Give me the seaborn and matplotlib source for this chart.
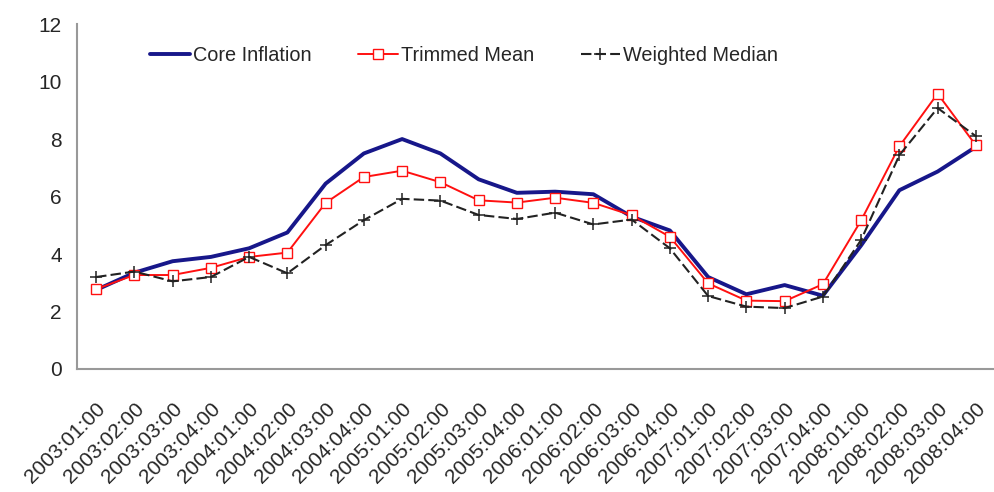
import numpy as np
import pandas as pd
import matplotlib
matplotlib.use('Agg')
import matplotlib.pyplot as plt
import seaborn as sns

# quarters shown on the x axis
quarters = [f'{y}:{q:02d}:00' for y in range(2003, 2009) for q in range(1, 5)]

core_inflation = [2.75, 3.35, 3.75, 3.9, 4.2, 4.75, 6.45, 7.5, 8.0, 7.5, 6.6, 6.13,
                  6.17, 6.08, 5.3, 4.82, 3.2, 2.6, 2.92, 2.55, 4.3, 6.22, 6.87, 7.73]
trimmed_mean = [2.78, 3.27, 3.27, 3.52, 3.9, 4.05, 5.78, 6.68, 6.9, 6.5, 5.87, 5.79,
                5.96, 5.78, 5.35, 4.6, 2.98, 2.38, 2.36, 2.95, 5.17, 7.75, 9.58, 7.78]
weighted_median = [3.2, 3.39, 3.05, 3.2, 3.9, 3.33, 4.31, 5.18, 5.92, 5.86, 5.36, 5.22,
                   5.44, 5.03, 5.2, 4.2, 2.54, 2.17, 2.12, 2.52, 4.49, 7.44, 9.08, 8.1]

df = pd.DataFrame({
    'idx': np.arange(len(quarters)),
    'Core Inflation': core_inflation,
    'Trimmed Mean': trimmed_mean,
    'Weighted Median': weighted_median,
})

sns.set_style('white')
plt.rcParams['font.family'] = ['Liberation Sans', 'DejaVu Sans']

fig = plt.figure(figsize=(9.95, 4.92), dpi=100)
ax = fig.add_axes([77 / 995, 0.25, (995 - 77) / 995, 0.701])

sns.lineplot(data=df, x='idx', y='Core Inflation', ax=ax, color='#17178a',
             linewidth=2.8, label='Core Inflation')
sns.lineplot(data=df, x='idx', y='Trimmed Mean', ax=ax, color='#ff1010',
             linewidth=1.4, marker='s', markersize=7.5, markerfacecolor='white',
             markeredgecolor='#ff1010', markeredgewidth=1.0, label='Trimmed Mean')
sns.lineplot(data=df, x='idx', y='Weighted Median', ax=ax, color='#222222',
             linewidth=1.5, marker='+', markersize=9, markeredgewidth=1.1,
             markeredgecolor='#222222', label='Weighted Median')
ax.lines[2].set_dashes((5, 2))

ax.set_xlim(-0.5, 23.25)
ax.set_ylim(0, 12)
ax.set_yticks(range(0, 13, 2))
ax.set_xticks(df['idx'])
ax.set_xticklabels(quarters, rotation=45, ha='right', va='top',
                   rotation_mode='anchor', fontsize=15)
ax.set_xticks(np.arange(-0.5, 24, 1), minor=True)
ax.tick_params(axis='x', which='major', length=0, pad=22)
ax.tick_params(axis='x', which='minor', length=5, width=1, color='#777777',
               direction='out')
ax.tick_params(axis='y', length=5, width=1, color='#777777', direction='out',
               labelsize=15, pad=6)
ax.set_xlabel('')
ax.set_ylabel('')

for side in ['top', 'right']:
    ax.spines[side].set_visible(False)
for side in ['left', 'bottom']:
    ax.spines[side].set_color('#999999')
    ax.spines[side].set_linewidth(1.5)

ax.legend(loc='center left', bbox_to_anchor=(150 / 995, 0.888),
          bbox_transform=fig.transFigure, ncol=3, frameon=False, fontsize=14.3,
          handlelength=2.0, handletextpad=0.15, columnspacing=2.35,
          borderpad=0, borderaxespad=0)

plt.savefig('out.png', dpi=100)
